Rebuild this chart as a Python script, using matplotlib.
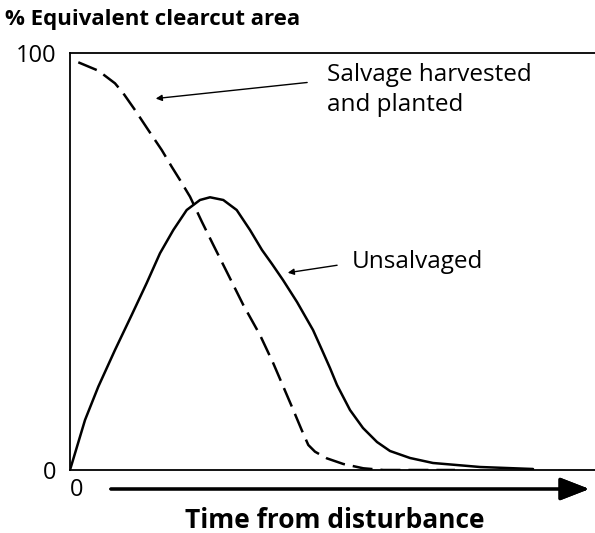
import matplotlib.pyplot as plt
import matplotlib.transforms as mtransforms
import numpy as np

# values (x: 0-100 of the plot width, y: % equivalent clearcut area)
unsalvaged_x = [0, 2.86, 5.39, 8.57, 11.75, 14.61, 17.14, 19.68, 22.23, 24.76, 26.67, 29.2,
                31.75, 34.29, 36.57, 38.48, 40.57, 43.24, 46.29, 48.0, 49.52, 50.86, 53.33,
                55.81, 58.48, 60.95, 64.76, 69.14, 78.1, 88.19]
unsalvaged_y = [0, 11.99, 19.98, 28.78, 37.17, 44.84, 51.97, 57.55, 62.35, 64.75, 65.4, 64.75,
                62.35, 57.55, 52.76, 49.4, 45.56, 40.29, 33.57, 28.78, 24.46, 20.38, 14.39,
                10.07, 6.71, 4.56, 2.88, 1.68, 0.72, 0.24]

salvaged_x = [1.58, 5.39, 8.57, 10.15, 12.38, 14.91, 17.47, 19.37, 20.95, 22.86, 25.14, 27.3,
              29.85, 33.01, 36.19, 38.72, 40.63, 42.53, 44.13, 45.39, 46.67, 48.9, 52.06,
              55.87, 59.68, 73.33]
salvaged_y = [97.77, 95.76, 92.73, 90.34, 86.33, 81.53, 76.74, 72.73, 69.54, 65.54, 59.47, 53.96,
              47.55, 39.57, 32.37, 25.59, 19.98, 14.39, 9.59, 6.0, 4.39, 2.81, 1.44,
              0.41, 0.0, 0.0]

y_ticks = [0, 100]
y_tick_labels = ['0', '100']
x_ticks = [0]
x_tick_labels = ['0']

plt.rcParams['font.family'] = ['Open Sans', 'DejaVu Sans']

W, H = 595, 533
fig = plt.figure(figsize=(W / 100, H / 100), dpi=100)
ax = fig.add_axes([70 / W, 1 - 470 / H, 1 - 70 / W, (470 - 53) / H])

ax.plot(unsalvaged_x, unsalvaged_y, color='black', lw=1.8,
        solid_joinstyle='round', solid_capstyle='round')
ax.plot(salvaged_x, salvaged_y, color='black', lw=1.8, dashes=(8, 3.2),
        dash_joinstyle='round')

ax.set_xlim(0, 100)
ax.set_ylim(0, 100)
ax.spines['right'].set_visible(False)
for s in ['left', 'top', 'bottom']:
    ax.spines[s].set_linewidth(1.3)
ax.set_yticks(y_ticks)
ax.set_yticklabels(y_tick_labels, fontsize=17)
ax.set_xticks(x_ticks)
ax.set_xticklabels(x_tick_labels, fontsize=17)
ax.tick_params(axis='y', length=0, pad=10)
ax.tick_params(axis='x', length=0, pad=6)
# x "0" sits a bit right of the corner in the original
shift = mtransforms.ScaledTranslation(7 / 100, 0, fig.dpi_scale_trans)
for lab in ax.get_xticklabels():
    lab.set_transform(lab.get_transform() + shift)

# labels with arrows
ax.annotate('', xy=(15.8, 89.0), xytext=(45.7, 93.0),
            arrowprops=dict(arrowstyle='-|>', lw=1.0, color='black', mutation_scale=9))
ax.text(48.95, 91.2, 'Salvage harvested\nand planted', fontsize=17.5, ha='left', va='center',
        linespacing=1.35)
ax.annotate('', xy=(40.95, 47.2), xytext=(51.4, 49.2),
            arrowprops=dict(arrowstyle='-|>', lw=1.0, color='black', mutation_scale=9))
ax.text(53.7, 49.9, 'Unsalvaged', fontsize=17.5, ha='left', va='center')

# titles
fig.text(5 / W, 1 - 20 / H, '% Equivalent clearcut area', fontsize=16, fontweight='bold',
         ha='left', va='center')
fig.text(335 / W, 1 - 520 / H, 'Time from disturbance', fontsize=19, fontweight='bold',
         ha='center', va='center')

# time arrow under the axis
fig.add_artist(plt.annotate('', xy=(592 / W, 1 - 489 / H), xytext=(108 / W, 1 - 489 / H),
                            xycoords='figure fraction', textcoords='figure fraction',
                            arrowprops=dict(arrowstyle='-|>,head_length=0.9,head_width=0.35',
                                            lw=2.2, color='black', mutation_scale=20)))

fig.savefig('out.png', dpi=100)
